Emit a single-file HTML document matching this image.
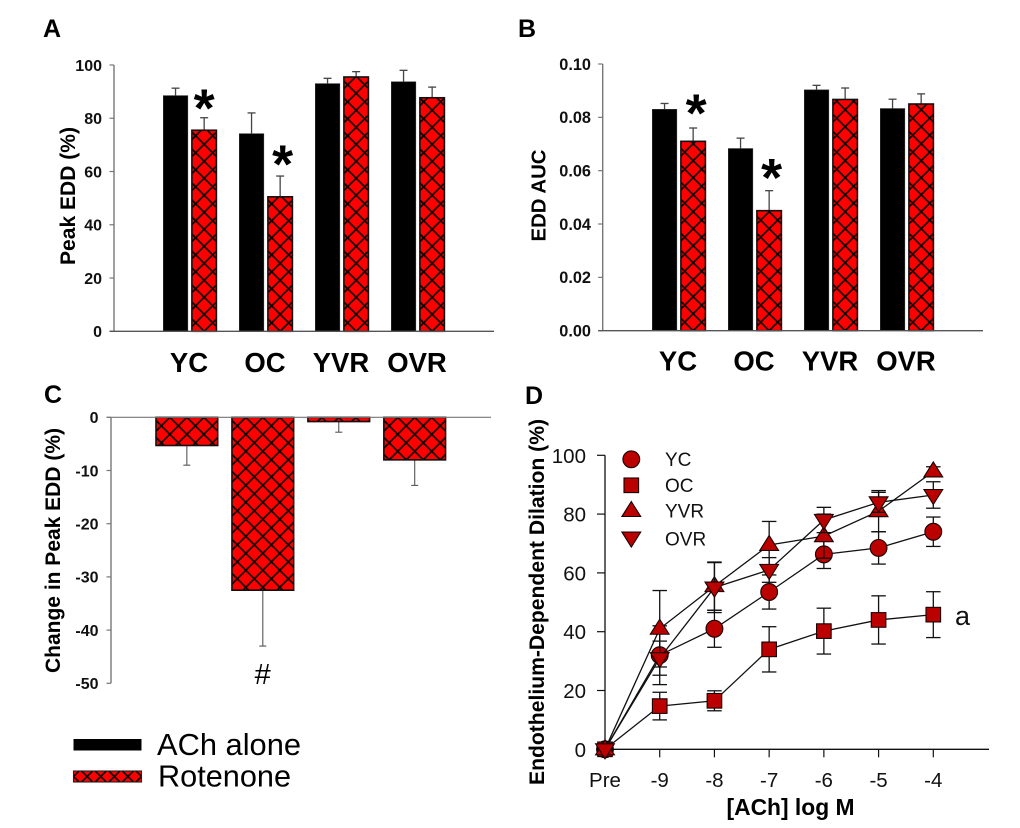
<!DOCTYPE html>
<html lang="en">
<head>
<meta charset="utf-8">
<title>Peak EDD, EDD AUC and dose response</title>
<style>
html,body{margin:0;padding:0;background:#fff;}
svg{display:block;font-family:"Liberation Sans",sans-serif;}
</style>
</head>
<body>
<svg id="figure" xmlns="http://www.w3.org/2000/svg" width="1020" height="828" viewBox="0 0 1020 828">
<defs id="defs"></defs>
<rect x="0" y="0" width="1020" height="828" fill="#fff"/>
<g font-weight="bold" font-size="25" fill="#000">
<text x="43" y="37">A</text>
<text x="518" y="37">B</text>
<text x="44" y="403">C</text>
<text x="525" y="404">D</text>
</g>
<text transform="translate(75,196) rotate(-90)" text-anchor="middle" font-size="21" font-weight="bold" textLength="138" lengthAdjust="spacingAndGlyphs">Peak EDD (%)</text>
<text transform="translate(545.5,195.5) rotate(-90)" text-anchor="middle" font-size="20.5" font-weight="bold" textLength="92" lengthAdjust="spacingAndGlyphs">EDD AUC</text>
<text transform="translate(60,550.5) rotate(-90)" text-anchor="middle" font-size="21" font-weight="bold" textLength="245" lengthAdjust="spacingAndGlyphs">Change in Peak EDD (%)</text>
<text transform="translate(544,602) rotate(-90)" text-anchor="middle" font-size="21" font-weight="bold" textLength="366" lengthAdjust="spacingAndGlyphs">Endothelium-Dependent Dilation (%)</text>
<text x="790.5" y="815" text-anchor="middle" font-size="22.8" font-weight="bold" textLength="128" lengthAdjust="spacingAndGlyphs">[ACh] log M</text>
<text x="262.7" y="684" text-anchor="middle" font-size="29">#</text>
<text x="955" y="625" font-size="27" fill="#111">a</text>
<rect x="73.5" y="739" width="68" height="11.5" fill="#000"/>
<text x="157" y="755" font-size="30.5" textLength="144" lengthAdjust="spacingAndGlyphs">ACh alone</text>
<text x="158" y="786.5" font-size="30.5" textLength="133" lengthAdjust="spacingAndGlyphs">Rotenone</text>
<g id="panelA"></g>
<g id="panelB"></g>
<g id="panelC"></g>
<g id="panelD"></g>
<g id="legendHatch"></g>
</svg>
<script>
// ---------- chart data ----------
const groups = ['YC', 'OC', 'YVR', 'OVR'];

const peakAch = [88.5, 74.2, 93, 93.7];
const peakAchErr = [2.8, 7.8, 2, 4.3];
const peakRot = [75.5, 50.5, 95.5, 87.7];
const peakRotErr = [4.7, 7.8, 2, 4];
const peakTicks = [0, 20, 40, 60, 80, 100];
const peakStars = [0, 1];

const aucAch = [0.083, 0.0683, 0.0903, 0.0833];
const aucAchErr = [0.0022, 0.0039, 0.0017, 0.0035];
const aucRot = [0.071, 0.045, 0.0867, 0.085];
const aucRotErr = [0.005, 0.0075, 0.0043, 0.0038];
const aucTicks = [0, 0.02, 0.04, 0.06, 0.08, 0.10];
const aucStars = [0, 1];

const changeValues = [-5.3, -32.5, -0.8, -8];
const changeErr = [3.7, 10.5, 2, 4.8];
const changeTicks = [0, -10, -20, -30, -40, -50];

const doseLabels = ['Pre', '-9', '-8', '-7', '-6', '-5', '-4'];
const doseTicks = [0, 20, 40, 60, 80, 100];
const seriesNames = ['YC', 'OC', 'YVR', 'OVR'];
const ycValues = [0, 32, 41, 53.5, 66.3, 68.5, 74];
const ycErr = [0, 10, 6.3, 5.8, 4.8, 5.5, 5];
const ocValues = [0, 14.7, 16.5, 34, 40.2, 44, 45.8];
const ocErr = [0, 4.7, 3.4, 7.7, 7.8, 8.2, 7.8];
const yvrValues = [0, 41, 55.5, 69.5, 72.5, 81, 94.5];
const yvrErr = [0, 13, 8.2, 8, 7.5, 7, 1.6];
const ovrValues = [0, 31, 55, 61, 78, 84, 86.5];
const ovrErr = [0, 5.8, 8.5, 4.2, 4.3, 3.4, 4.5];

// ---------- helpers ----------
const NS = 'http://www.w3.org/2000/svg';
const RED = '#ff0000';
const DARKRED = '#bb0000';
const HATCH_PERIOD = 17;
let patternCount = 0;

function make(parent, tag, props, name) {
  const node = document.createElementNS(NS, tag);
  for (const k in props) node.setAttribute(k, props[k]);
  
  
  parent.appendChild(node);
  return node;
}

function linearScale(d0, d1, r0, r1) {
  return function (v) { return r0 + (v - d0) * (r1 - r0) / (d1 - d0); };
}

function hatch(x, y, period) {
  const id = 'hatch' + (patternCount++);
  const defs = document.getElementById('defs');
  const p = document.createElementNS(NS, 'pattern');
  p.setAttribute('id', id);
  p.setAttribute('patternUnits', 'userSpaceOnUse');
  p.setAttribute('width', period);
  p.setAttribute('height', period);
  p.setAttribute('patternTransform', 'translate(' + x + ',' + y + ')');
  const bg = document.createElementNS(NS, 'rect');
  bg.setAttribute('width', period);
  bg.setAttribute('height', period);
  bg.setAttribute('fill', RED);
  p.appendChild(bg);
  const cross = document.createElementNS(NS, 'path');
  cross.setAttribute('d', 'M0 0L' + period + ' ' + period + 'M' + period + ' 0L0 ' + period);
  cross.setAttribute('stroke', '#000');
  cross.setAttribute('stroke-width', '1.6');
  p.appendChild(cross);
  defs.appendChild(p);
  return 'url(#' + id + ')';
}

function yAxis(g, xPos, scale, ticks, fmt, labelRight, size, color, prefix) {
  const top = Math.min.apply(null, ticks.map(scale));
  const bottom = Math.max.apply(null, ticks.map(scale));
  make(g, 'line', { x1: xPos, x2: xPos, y1: top, y2: bottom, stroke: color, 'stroke-width': 1.4 }, prefix + '-y-axis-line');
  ticks.forEach(function (t) {
    const y = scale(t);
    make(g, 'line', { x1: xPos - 4.5, x2: xPos, y1: y, y2: y, stroke: color, 'stroke-width': 1.2 }, prefix + '-y-tick');
    const label = make(g, 'text', { x: labelRight, y: y + size * 0.36, 'text-anchor': 'end', 'font-size': size, 'font-weight': 'bold', fill: '#111' }, prefix + '-y-tick-label');
    label.textContent = fmt(t);
  });
}

function errorBar(g, x, y1, y2, capW, color, sw, name) {
  make(g, 'line', { x1: x, x2: x, y1: y1, y2: y2, stroke: color, 'stroke-width': sw }, name + '-stem');
  make(g, 'line', { x1: x - capW / 2, x2: x + capW / 2, y1: y2, y2: y2, stroke: color, 'stroke-width': sw }, name + '-cap');
}

function pairedBars(g, cfg, ach, achErr, rot, rotErr, stars, prefix) {
  const y = cfg.scale;
  const barW = 24.5;
  const bandX = function (i) { return cfg.x0 + 76 * i; };
  const y0 = y(0);
  groups.forEach(function (name, i) {
    const key = prefix + '-' + name.toLowerCase();
    const ax = bandX(i);
    const rx = ax + 28.6;
    errorBar(g, ax + barW / 2, y(ach[i]), y(ach[i] + achErr[i]), 8, '#444', 1.3, key + '-ach-error');
    make(g, 'rect', { x: ax, y: y(ach[i]), width: barW, height: y0 - y(ach[i]), fill: '#000', stroke: '#333', 'stroke-width': 0.6 }, key + '-ach-bar');
    errorBar(g, rx + barW / 2, y(rot[i]), y(rot[i] + rotErr[i]), 8, '#444', 1.3, key + '-rotenone-error');
    make(g, 'rect', { x: rx, y: y(rot[i]), width: barW, height: y0 - y(rot[i]), fill: hatch(rx + barW / 2, y0, HATCH_PERIOD), stroke: '#111', 'stroke-width': 1.6 }, key + '-rotenone-bar');
    const label = make(g, 'text', { x: ax + cfg.labelDx, y: cfg.labelY, 'text-anchor': 'middle', 'font-size': 27.5, 'font-weight': 'bold', fill: '#000' }, key + '-category-label');
    label.textContent = name;
  });
  stars.forEach(function (i, n) {
    const rx = bandX(i) + 28.6 + barW / 2;
    const star = make(g, 'text', { x: rx + cfg.starDx[n], y: y(rot[i] + rotErr[i]) - cfg.starGap[n] + 26, 'text-anchor': 'middle', 'font-size': 54, 'font-weight': 'bold', fill: '#000' }, prefix + '-significance-star');
    star.textContent = '*';
  });
  make(g, 'line', { x1: cfg.axisX - 4.5, x2: cfg.axisEnd, y1: y0, y2: y0, stroke: '#555', 'stroke-width': 1.3 }, prefix + '-x-axis-line');
}

function marker(g, kind, cx, cy, name) {
  const common = { fill: DARKRED, stroke: '#1a0000', 'stroke-width': 1.1 };
  let props;
  if (kind === 'YC') {
    props = Object.assign({ cx: cx, cy: cy, r: 8.4 }, common);
    return make(g, 'circle', props, name);
  }
  if (kind === 'OC') {
    props = Object.assign({ x: cx - 7.3, y: cy - 7.3, width: 14.6, height: 14.6 }, common);
    return make(g, 'rect', props, name);
  }
  if (kind === 'YVR') {
    props = Object.assign({ points: (cx - 9.4) + ',' + (cy + 5.5) + ' ' + (cx + 9.4) + ',' + (cy + 5.5) + ' ' + cx + ',' + (cy - 9.5) }, common);
    return make(g, 'polygon', props, name);
  }
  props = Object.assign({ points: (cx - 9.4) + ',' + (cy - 5.5) + ' ' + (cx + 9.4) + ',' + (cy - 5.5) + ' ' + cx + ',' + (cy + 9.5) }, common);
  return make(g, 'polygon', props, name);
}

// ---------- panel A ----------
(function () {
  const g = document.getElementById('panelA');
  const scale = linearScale(0, 100, 331.3, 65);
  yAxis(g, 114, scale, peakTicks, function (t) { return String(t); }, 102, 16, '#777', 'panel-a');
  pairedBars(g, { scale: scale, x0: 163.3, axisX: 114, axisEnd: 494, labelY: 372, labelDx: 25.7, starGap: [17, 19.3], starDx: [0, 2.5] }, peakAch, peakAchErr, peakRot, peakRotErr, peakStars, 'panel-a');
})();

// ---------- panel B ----------
(function () {
  const g = document.getElementById('panelB');
  const scale = linearScale(0, 0.1, 330.7, 64);
  yAxis(g, 602.7, scale, aucTicks, function (t) { return t.toFixed(2); }, 591, 16.3, '#777', 'panel-b');
  pairedBars(g, { scale: scale, x0: 652.3, axisX: 602.7, axisEnd: 983, labelY: 370.7, labelDx: 25.7, starGap: [22.3, 20.7], starDx: [3, 2.5] }, aucAch, aucAchErr, aucRot, aucRotErr, aucStars, 'panel-b');
})();

// ---------- panel C ----------
(function () {
  const g = document.getElementById('panelC');
  const scale = linearScale(0, -50, 417.3, 683.3);
  const barW = 61.7;
  const bandX = function (i) { return 156 + 75.95 * i; };
  yAxis(g, 111, scale, changeTicks, function (t) { return String(t); }, 98.5, 16, '#777', 'panel-c');
  groups.forEach(function (name, i) {
    const x = bandX(i);
    const key = 'panel-c-' + name.toLowerCase();
    errorBar(g, x + barW / 2, scale(changeValues[i]), scale(changeValues[i] - changeErr[i]), 7, '#555', 1.1, key + '-error');
    make(g, 'rect', { x: x, y: scale(0), width: barW, height: scale(changeValues[i]) - scale(0), fill: hatch(x + barW / 2, scale(0), HATCH_PERIOD), stroke: '#111', 'stroke-width': 1.6 }, key + '-bar');
  });
  make(g, 'line', { x1: 106.5, x2: 491, y1: scale(0), y2: scale(0), stroke: '#777', 'stroke-width': 1.2 }, 'panel-c-x-axis-line');
})();

// ---------- panel D ----------
(function () {
  const g = document.getElementById('panelD');
  const x = linearScale(0, 6, 605, 933.3);
  const y = linearScale(0, 100, 749.3, 455.3);
  const seriesValues = [ycValues, ocValues, yvrValues, ovrValues];
  const seriesErrors = [ycErr, ocErr, yvrErr, ovrErr];

  make(g, 'line', { x1: 605, x2: 605, y1: y(100), y2: y(0), stroke: '#111', 'stroke-width': 1.3 }, 'panel-d-y-axis-line');
  make(g, 'line', { x1: 605, x2: 989, y1: y(0), y2: y(0), stroke: '#111', 'stroke-width': 1.3 }, 'panel-d-x-axis-line');
  doseTicks.forEach(function (t) {
    make(g, 'line', { x1: 597, x2: 605, y1: y(t), y2: y(t), stroke: '#111', 'stroke-width': 1.2 }, 'panel-d-y-tick');
    const label = make(g, 'text', { x: 586, y: y(t) + 7.5, 'text-anchor': 'end', 'font-size': 20.5, fill: '#111' }, 'panel-d-y-tick-label');
    label.textContent = String(t);
  });
  doseLabels.forEach(function (t, i) {
    make(g, 'line', { x1: x(i), x2: x(i), y1: y(0), y2: y(0) + 8, stroke: '#111', 'stroke-width': 1.2 }, 'panel-d-x-tick');
    const label = make(g, 'text', { x: x(i), y: 787, 'text-anchor': 'middle', 'font-size': 20.5, fill: '#111' }, 'panel-d-x-tick-label');
    label.textContent = t;
  });

  seriesNames.forEach(function (name, s) {
    const key = 'panel-d-' + name.toLowerCase();
    const vals = seriesValues[s];
    const errs = seriesErrors[s];
    const pts = vals.map(function (v, i) { return x(i) + ',' + y(v); }).join(' ');
    make(g, 'polyline', { points: pts, fill: 'none', stroke: '#111', 'stroke-width': 1.3 }, key + '-line');
    vals.forEach(function (v, i) {
      if (errs[i] > 0) {
        errorBar(g, x(i), y(v), y(v + errs[i]), 14.5, '#111', 1.3, key + '-error-upper');
        errorBar(g, x(i), y(v), y(v - errs[i]), 14.5, '#111', 1.3, key + '-error-lower');
      }
    });
    vals.forEach(function (v, i) {
      marker(g, name, x(i), y(v), key + '-point');
    });
  });

  const legendRowY = [459.3, 485.3, 511, 537.6];
  const legendTextY = [466, 492, 517.5, 545.5];
  seriesNames.forEach(function (name, s) {
    marker(g, name, 631.3, legendRowY[s], 'legend-marker-' + name.toLowerCase());
    const label = make(g, 'text', { x: 665, y: legendTextY[s], 'font-size': 19, fill: '#111' }, 'legend-label-' + name.toLowerCase());
    label.textContent = name;
  });
})();

// ---------- legend hatch swatch ----------
(function () {
  const g = document.getElementById('legendHatch');
  make(g, 'rect', { x: 73.5, y: 771, width: 68, height: 11, fill: hatch(73.5, 776.5, 13.6), stroke: '#222', 'stroke-width': 1.1 }, 'legend-swatch-rotenone');
})();
</script>
</body>
</html>
